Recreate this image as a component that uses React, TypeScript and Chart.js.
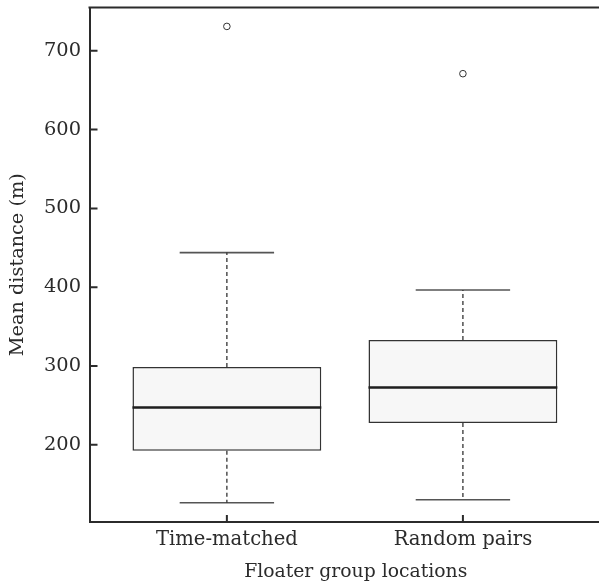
import { useEffect, useRef } from 'react';
import { Chart, registerables } from 'chart.js';

Chart.register(...registerables);

// ---- data ----
const categories = ['Time-matched', 'Random pairs'];
const positions = [1, 2];
const lowerWhisker = [126.5, 130.3];
const q1 = [192.4, 227.5];
const median = [247.3, 272.7];
const q3 = [298.8, 333.1];
const upperWhisker = [443.9, 396.5];
const outliers = [[731], [671]];
const yTicks = [200, 300, 400, 500, 600, 700];

const yMin = 102;
const yMax = 755;
const xMin = 0.418;
const xMax = 2.674;
const boxHalf = 0.4;
const capHalf = 0.2;

const FONT = "'DejaVu Serif', serif";
const INK = '#2b2b2b';

function segments(build: (i: number) => [{ x: number; y: number }, { x: number; y: number }][]) {
  const out: any[] = [];
  positions.forEach((p, i) => {
    build(i).forEach(([a, b]) => {
      out.push(a, b, { x: p, y: null });
    });
  });
  return out;
}

const framePlugin = {
  id: 'frame',
  afterDraw(chart: any) {
    const { ctx, chartArea, scales } = chart;
    const { left, top, bottom, right } = chartArea;
    ctx.save();
    ctx.strokeStyle = INK;
    ctx.lineWidth = 2;
    ctx.beginPath();
    ctx.moveTo(left - 1, top);
    ctx.lineTo(right, top);
    ctx.stroke();
    ctx.beginPath();
    scales.y.ticks.forEach((t: any) => {
      const y = scales.y.getPixelForValue(t.value);
      ctx.moveTo(left, y);
      ctx.lineTo(left + 8, y);
    });
    scales.x.ticks.forEach((t: any) => {
      const x = scales.x.getPixelForValue(t.value);
      ctx.moveTo(x, bottom);
      ctx.lineTo(x, bottom - 7);
    });
    ctx.stroke();
    ctx.restore();
  },
};

export default function App() {
  const ref = useRef<HTMLCanvasElement | null>(null);

  useEffect(() => {
    if (!ref.current) return;

    const medianData = segments((i) => [[
      { x: positions[i] - boxHalf, y: median[i] },
      { x: positions[i] + boxHalf, y: median[i] },
    ]]);
    const whiskerData = segments((i) => [
      [{ x: positions[i], y: q3[i] }, { x: positions[i], y: upperWhisker[i] }],
      [{ x: positions[i], y: q1[i] }, { x: positions[i], y: lowerWhisker[i] }],
    ]);
    const capData = segments((i) => [
      [{ x: positions[i] - capHalf, y: upperWhisker[i] }, { x: positions[i] + capHalf, y: upperWhisker[i] }],
      [{ x: positions[i] - capHalf, y: lowerWhisker[i] }, { x: positions[i] + capHalf, y: lowerWhisker[i] }],
    ]);
    const outlierData: any[] = [];
    positions.forEach((p, i) => outliers[i].forEach((v) => outlierData.push({ x: p, y: v })));
    const boxData = positions.map((p, i) => ({ x: p, y: [q1[i], q3[i]] }));

    const lineBase = {
      type: 'line' as const,
      pointRadius: 0,
      pointHoverRadius: 0,
      fill: false,
      tension: 0,
      spanGaps: false,
      borderCapStyle: 'butt' as const,
    };

    const chart = new Chart(ref.current, {
      type: 'bar',
      data: {
        datasets: [
          { ...lineBase, data: medianData, borderColor: '#1e1e1e', borderWidth: 2.5, order: 1 } as any,
          { ...lineBase, data: whiskerData, borderColor: '#333', borderWidth: 1.3, borderDash: [4, 3], order: 2 } as any,
          { ...lineBase, data: capData, borderColor: '#555', borderWidth: 1.6, order: 3 } as any,
          {
            type: 'scatter',
            data: outlierData,
            pointStyle: 'circle',
            pointRadius: 3.3,
            borderWidth: 1,
            borderColor: '#333',
            backgroundColor: '#ffffff',
            order: 4,
          } as any,
          {
            type: 'bar',
            data: boxData,
            backgroundColor: '#f7f7f7',
            borderColor: '#333',
            borderWidth: 1.5,
            borderSkipped: false,
            categoryPercentage: 0.8,
            barPercentage: 1,
            order: 5,
          } as any,
        ],
      },
      options: {
        responsive: false,
        animation: false,
        layout: { padding: { top: 7.5, left: 0, right: 0.5, bottom: 0 } },
        plugins: { legend: { display: false }, tooltip: { enabled: false } },
        scales: {
          x: {
            type: 'linear',
            offset: false,
            min: xMin,
            max: xMax,
            grid: { display: false, drawTicks: false, offset: false },
            border: { display: true, color: INK, width: 2 },
            afterBuildTicks: (s: any) => {
              s.ticks = positions.map((v) => ({ value: v }));
            },
            afterFit: (s: any) => {
              s.height = 65;
              s.paddingLeft = 0;
              s.paddingRight = 0;
            },
            ticks: {
              padding: 6,
              maxRotation: 0,
              autoSkip: false,
              color: INK,
              font: { family: FONT, size: 19.6 },
              callback: (v: any) => categories[positions.indexOf(Number(v))] ?? '',
            },
            title: {
              display: true,
              text: 'Floater group locations',
              color: INK,
              font: { family: FONT, size: 18.8 },
              padding: { top: 0, bottom: 4 },
            },
          },
          y: {
            type: 'linear',
            min: yMin,
            max: yMax,
            grid: { display: false, drawTicks: false },
            border: { display: true, color: INK, width: 2 },
            afterBuildTicks: (s: any) => {
              s.ticks = yTicks.map((v) => ({ value: v }));
            },
            afterFit: (s: any) => {
              s.width = 89.5;
              s.paddingTop = 0;
              s.paddingBottom = 0;
            },
            ticks: {
              padding: 8.5,
              color: INK,
              font: { family: FONT, size: 19.4 },
            },
            title: {
              display: true,
              text: 'Mean distance (m)',
              color: INK,
              font: { family: FONT, size: 19.3 },
              padding: { top: 6.4, bottom: 0 },
            },
          },
        },
      },
      plugins: [framePlugin],
    });

    return () => chart.destroy();
  }, []);

  return (
    <div style={{ position: 'absolute', left: 0, top: 0, width: 599, height: 587, overflow: 'hidden', background: '#fff' }}>
      <canvas ref={ref} width={627} height={587} style={{ display: 'block', width: 627, height: 587 }} />
    </div>
  );
}
